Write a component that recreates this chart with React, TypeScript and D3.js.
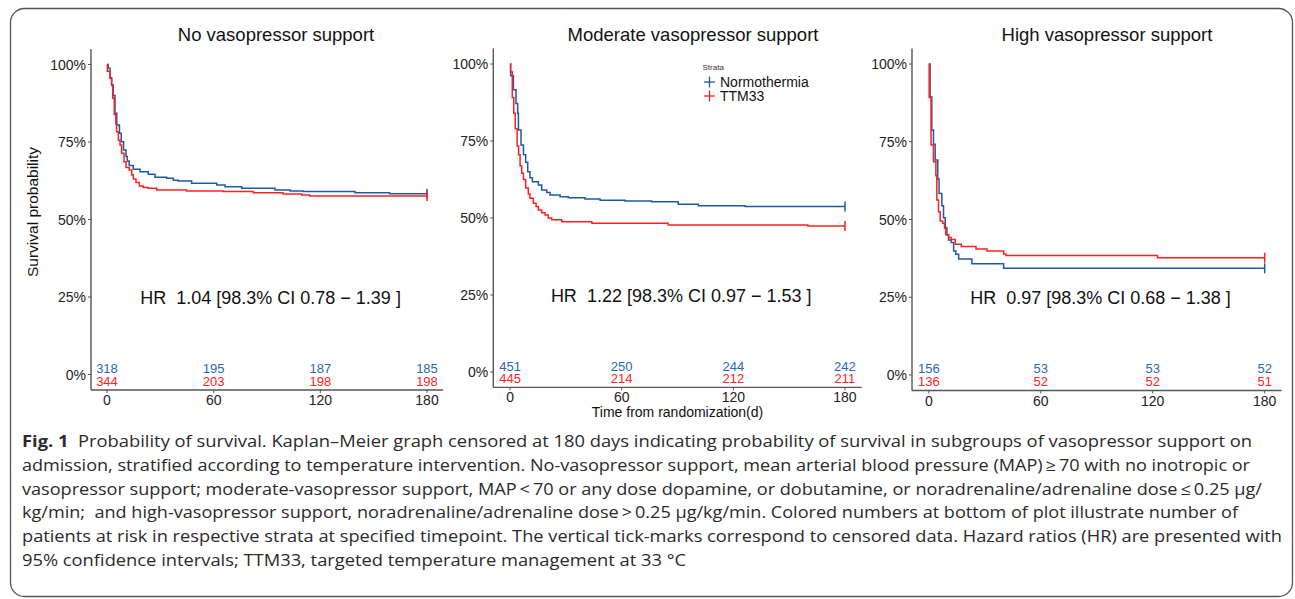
import * as d3 from "d3";

const W = 1295;
const H = 599;

const timeTicks = [0, 60, 120, 180];
const survTicks = [0, 0.25, 0.5, 0.75, 1];
const strata = ["Normothermia", "TTM33"];
const panelTitles = [
  "No vasopressor support",
  "Moderate vasopressor support",
  "High vasopressor support",
];
const hrLabels = [
  "HR  1.04 [98.3% CI 0.78 \u2212 1.39 ]",
  "HR  1.22 [98.3% CI 0.97 \u2212 1.53 ]",
  "HR  0.97 [98.3% CI 0.68 \u2212 1.38 ]",
];

// Kaplan-Meier steps: [day, survival]
const noneNormo: [number, number][] = [
  [0, 1], [0.7, 0.988], [1.7, 0.957], [2.6, 0.934], [3.5, 0.9], [4.5, 0.843],
  [5.5, 0.805], [7, 0.778], [8, 0.751], [9.3, 0.724], [10.7, 0.703], [11.4, 0.689],
  [12.5, 0.674], [14.8, 0.662], [18.6, 0.654], [23.2, 0.646], [27, 0.636],
  [33.6, 0.633], [37.3, 0.627], [40, 0.624], [47.6, 0.617], [61.7, 0.611],
  [66.4, 0.606], [75.8, 0.601], [94.5, 0.595], [103, 0.592], [110.4, 0.59],
  [139.5, 0.586], [159, 0.583],
];
const noneTTM: [number, number][] = [
  [0, 1], [0.2, 0.978], [1.7, 0.955], [2.6, 0.932], [3.2, 0.891], [4.1, 0.839],
  [5, 0.807], [5.4, 0.783], [6.4, 0.756], [7.3, 0.74], [8.2, 0.714], [9.6, 0.686],
  [10.7, 0.668], [12.5, 0.66], [13.9, 0.644], [14.8, 0.631], [16.3, 0.619],
  [18.2, 0.608], [20.4, 0.603], [23.2, 0.601], [28, 0.595], [44.8, 0.592],
  [65.4, 0.59], [82.3, 0.586], [99, 0.582], [109.5, 0.579], [114, 0.576],
];
const modNormo: [number, number][] = [
  [0, 1], [0.3, 0.962], [1.8, 0.916], [3.2, 0.872], [4.1, 0.84], [4.5, 0.786],
  [5.9, 0.737], [7.2, 0.705], [8.4, 0.681], [9.5, 0.65], [10.7, 0.631], [12, 0.618],
  [15.2, 0.607], [17, 0.591], [19.7, 0.583], [21.5, 0.575], [26.9, 0.569],
  [31.3, 0.566], [40.3, 0.562], [48.4, 0.558], [61.8, 0.555], [76.1, 0.553],
  [90.4, 0.545], [101.2, 0.54], [126.3, 0.537],
];
const modTTM: [number, number][] = [
  [0, 1], [0.3, 0.975], [1.2, 0.891], [2, 0.84], [2.8, 0.79], [3.8, 0.734],
  [4.6, 0.705], [5.4, 0.669], [6.3, 0.645], [7.2, 0.625], [8.4, 0.597], [9.8, 0.578],
  [10.7, 0.564], [12.5, 0.548], [14, 0.537], [15.2, 0.526], [17, 0.517],
  [18.8, 0.51], [20.5, 0.5], [22.4, 0.494], [27.8, 0.488], [44, 0.483],
  [85, 0.477], [160, 0.474],
];
const highNormo: [number, number][] = [
  [0, 1], [0.7, 0.895], [1.6, 0.788], [2.5, 0.742], [3.4, 0.691], [4.8, 0.63],
  [5.5, 0.584], [7, 0.544], [7.9, 0.506], [8.8, 0.474], [9.7, 0.45], [10.6, 0.434],
  [12, 0.426], [13.3, 0.399], [14.5, 0.388], [16, 0.373], [23.1, 0.358],
  [40.1, 0.343],
];
const highTTM: [number, number][] = [
  [0, 1], [0.2, 0.892], [1.2, 0.74], [2.5, 0.686], [3.8, 0.641], [4.3, 0.563],
  [5.2, 0.525], [6.1, 0.495], [7.4, 0.488], [8.4, 0.472], [9.1, 0.452],
  [10.6, 0.442], [12, 0.436], [14.2, 0.42], [17.4, 0.413], [25.3, 0.405],
  [31.2, 0.399], [40.1, 0.389], [41.4, 0.384], [122.5, 0.377],
];

// numbers at risk at timeTicks
const noneRiskNormo = [318, 195, 187, 185];
const noneRiskTTM = [344, 203, 198, 198];
const modRiskNormo = [451, 250, 244, 242];
const modRiskTTM = [445, 214, 212, 211];
const highRiskNormo = [156, 53, 53, 52];
const highRiskTTM = [136, 52, 52, 51];

const captionLines = [
  "Probability of survival. Kaplan\u2013Meier graph censored at 180 days indicating probability of survival in subgroups of vasopressor support on",
  "admission, stratified according to temperature intervention. No-vasopressor support, mean arterial blood pressure (MAP)\u2009\u2265\u200970 with no inotropic or",
  "vasopressor support; moderate-vasopressor support, MAP\u2009<\u200970 or any dose dopamine, or dobutamine, or noradrenaline/adrenaline dose\u2009\u2264\u20090.25 \u00b5g/",
  "kg/min;  and high-vasopressor support, noradrenaline/adrenaline dose\u2009>\u20090.25 \u00b5g/kg/min. Colored numbers at bottom of plot illustrate number of",
  "patients at risk in respective strata at specified timepoint. The vertical tick-marks correspond to censored data. Hazard ratios (HR) are presented with",
  "95% confidence intervals; TTM33, targeted temperature management at 33 \u00b0C",
];
const captionEnds = [1252, 1250, 1262, 1238, 1282, 686];

const BLUE = "#1d5aa6";
const RED = "#ff1f1f";
const BLUE_TXT = "#2a68b2";
const RED_TXT = "#ff2424";
const FONT = "'Liberation Sans', Arial, sans-serif";

const panels = [
  { left: 91, right: 443, bottom: 390, top: 49, titleX: 276, curves: [noneNormo, noneTTM], risk: [noneRiskNormo, noneRiskTTM] },
  { left: 493.3, right: 861.7, bottom: 387.4, top: 48.6, titleX: 693, curves: [modNormo, modTTM], risk: [modRiskNormo, modRiskTTM] },
  { left: 912, right: 1281.5, bottom: 390.5, top: 48.5, titleX: 1107, curves: [highNormo, highTTM], risk: [highRiskNormo, highRiskTTM] },
];

const pct = d3.format(".0%");

function Panel({ p, idx }: { p: (typeof panels)[number]; idx: number }) {
  const x = d3.scaleLinear().domain([-9, 189]).range([p.left, p.right]);
  const y = d3.scaleLinear().domain([-0.05, 1.05]).range([p.bottom, p.top]);
  const line = d3
    .line<[number, number]>()
    .x((d) => x(d[0]))
    .y((d) => y(d[1]))
    .curve(d3.curveStepAfter);
  const colors = [BLUE, RED];
  const txtColors = [BLUE_TXT, RED_TXT];

  return (
    <g fontFamily={FONT}>
      <text x={p.titleX} y={41} textAnchor="middle" fontSize={18.5} fill="#111">
        {panelTitles[idx]}
      </text>
      {/* axes */}
      <line x1={p.left} x2={p.left} y1={p.top} y2={p.bottom} stroke="#555" strokeWidth={1.4} />
      <line x1={p.left} x2={p.right} y1={p.bottom} y2={p.bottom} stroke="#555" strokeWidth={1.4} />
      {survTicks.map((t) => (
        <g key={t}>
          <line x1={p.left - 3} x2={p.left} y1={y(t)} y2={y(t)} stroke="#555" strokeWidth={1} />
          <text x={p.left - 5} y={y(t) + 5} textAnchor="end" fontSize={14} fill="#222">
            {pct(t)}
          </text>
        </g>
      ))}
      {timeTicks.map((t) => (
        <g key={t}>
          <line x1={x(t)} x2={x(t)} y1={p.bottom} y2={p.bottom + 3} stroke="#555" strokeWidth={1} />
          <text x={x(t)} y={p.bottom + 15} textAnchor="middle" fontSize={14} fill="#222">
            {t}
          </text>
        </g>
      ))}
      {/* curves */}
      {p.curves.map((c, i) => {
        const last = c[c.length - 1][1];
        const pts: [number, number][] = [...c, [180, last]];
        return (
          <g key={i}>
            <path d={line(pts) || ""} fill="none" stroke={colors[i]} strokeWidth={1.5} />
            <line x1={x(180)} x2={x(180)} y1={y(last) - 5} y2={y(last) + 5} stroke={colors[i]} strokeWidth={1.5} />
          </g>
        );
      })}
      {/* numbers at risk */}
      {p.risk.map((r, i) =>
        r.map((n, j) => (
          <text
            key={`${i}-${j}`}
            x={x(timeTicks[j])}
            y={y(0) - 1.5 + i * 12.5}
            textAnchor="middle"
            fontSize={13}
            fill={txtColors[i]}
          >
            {n}
          </text>
        )),
      )}
      <text
        x={x(92)}
        y={y(0.25) + 6.5}
        textAnchor="middle"
        fontSize={18}
        fill="#111"
        style={{ whiteSpace: "pre" }}
      >
        {hrLabels[idx]}
      </text>
    </g>
  );
}

export default function App() {
  const legendColors = [BLUE, RED];
  return (
    <svg
      width={W}
      height={H}
      viewBox={`0 0 ${W} ${H}`}
      style={{ position: "absolute", left: 0, top: 0, background: "#fff" }}
    >
      <rect x={10.5} y={8.5} width={1282} height={588} rx={14} fill="#fff" stroke="#555" strokeWidth={1.3} />
      {panels.map((p, i) => (
        <Panel key={i} p={p} idx={i} />
      ))}
      <text
        x={38}
        y={212}
        transform="rotate(-90 38 212)"
        textAnchor="middle"
        fontSize={15.5}
        fontFamily={FONT}
        fill="#111"
      >
        Survival probability
      </text>
      <text x={677.5} y={417} textAnchor="middle" fontSize={14} fontFamily={FONT} fill="#111">
        Time from randomization(d)
      </text>
      {/* legend */}
      <g fontFamily={FONT}>
        <text x={702.5} y={70} fontSize={8} fill="#333">
          Strata
        </text>
        {strata.map((s, i) => {
          const cy = 82 + i * 14;
          return (
            <g key={s}>
              <line x1={704} x2={715} y1={cy} y2={cy} stroke={legendColors[i]} strokeWidth={1.3} />
              <line x1={709.5} x2={709.5} y1={cy - 5.5} y2={cy + 5.5} stroke={legendColors[i]} strokeWidth={1.3} />
              <text x={720} y={cy + 5} fontSize={14} fill="#111">
                {s}
              </text>
            </g>
          );
        })}
      </g>
      {/* caption */}
      <g fontFamily="'Open Sans', 'Noto Sans', sans-serif" fontSize={16} fill="#2a2a2a">
        {captionLines.map((l, i) => (
          <text
            key={i}
            x={22}
            y={447 + i * 23.8}
            textLength={captionEnds[i] - 22}
            lengthAdjust="spacingAndGlyphs"
            style={{ whiteSpace: "pre" }}
          >
            {i === 0 ? <tspan fontWeight="bold">{"Fig. 1  "}</tspan> : null}
            {l}
          </text>
        ))}
      </g>
    </svg>
  );
}
